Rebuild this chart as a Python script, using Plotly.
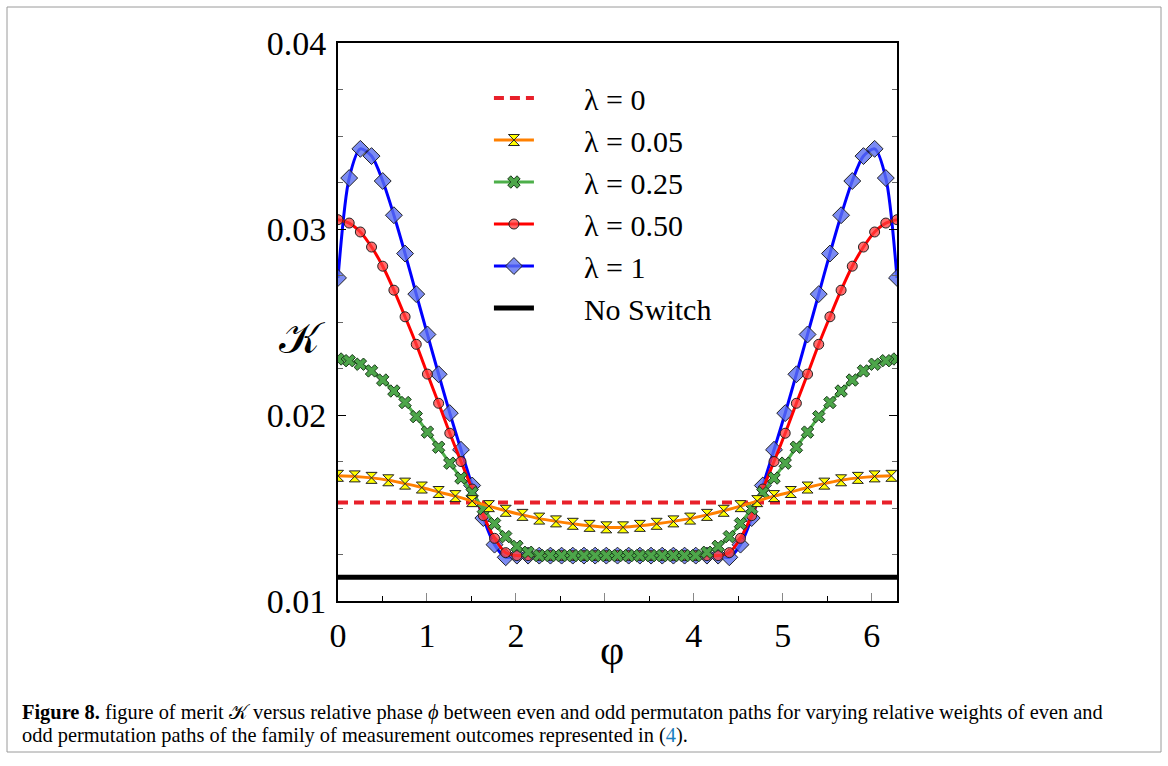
import numpy as np
import plotly.graph_objects as go

# ---------------- data ----------------
phi51 = np.linspace(0, 2 * np.pi, 51)          # grid of lambda = 0.25, 0.50, 1 markers
phi34 = np.linspace(0, 0.06 * np.pi * 33, 34)  # grid of lambda = 0.05 markers
phi_const = [0.0, 2 * np.pi]

k_lam0 = [0.0153, 0.0153]
k_noswitch = [0.01128, 0.01128]

k_lam005 = [0.01673, 0.01670, 0.01662, 0.01649, 0.01631, 0.01610, 0.01586, 0.01564,
            0.01537, 0.01510, 0.01485, 0.01463, 0.01443, 0.01428, 0.01415, 0.01404,
            0.01396, 0.01396, 0.01404, 0.01415, 0.01428, 0.01443, 0.01463, 0.01485,
            0.01510, 0.01537, 0.01564, 0.01586, 0.01610, 0.01631, 0.01649, 0.01662,
            0.01670, 0.01673]

k_lam025 = [0.02301, 0.02292, 0.02273, 0.02237, 0.02188, 0.02129, 0.02067, 0.01991,
            0.01908, 0.01827, 0.01741, 0.01661, 0.01582, 0.01497, 0.01416, 0.01346,
            0.01294, 0.01262, 0.01244, 0.01244, 0.01244, 0.01244, 0.01244, 0.01244,
            0.01244, 0.01244, 0.01244, 0.01244, 0.01244, 0.01244, 0.01244, 0.01244,
            0.01244, 0.01262, 0.01294, 0.01346, 0.01416, 0.01497, 0.01582, 0.01661,
            0.01741, 0.01827, 0.01908, 0.01991, 0.02067, 0.02129, 0.02188, 0.02237,
            0.02273, 0.02292, 0.02301]

k_lam050 = [0.03050, 0.03032, 0.02984, 0.02903, 0.02800, 0.02671, 0.02528, 0.02380,
            0.02220, 0.02063, 0.01902, 0.01750, 0.01602, 0.01459, 0.01337, 0.01260,
            0.01244, 0.01244, 0.01244, 0.01244, 0.01244, 0.01244, 0.01244, 0.01244,
            0.01244, 0.01244, 0.01244, 0.01244, 0.01244, 0.01244, 0.01244, 0.01244,
            0.01244, 0.01244, 0.01244, 0.01260, 0.01337, 0.01459, 0.01602, 0.01750,
            0.01902, 0.02063, 0.02220, 0.02380, 0.02528, 0.02671, 0.02800, 0.02903,
            0.02984, 0.03032, 0.03050]

k_lam1 = [0.02737, 0.03274, 0.03431, 0.03392, 0.03258, 0.03074, 0.02868, 0.02650,
          0.02433, 0.02219, 0.02010, 0.01813, 0.01621, 0.01446, 0.01303, 0.01235,
          0.01244, 0.01244, 0.01244, 0.01244, 0.01244, 0.01244, 0.01244, 0.01244,
          0.01244, 0.01244, 0.01244, 0.01244, 0.01244, 0.01244, 0.01244, 0.01244,
          0.01244, 0.01244, 0.01244, 0.01235, 0.01303, 0.01446, 0.01621, 0.01813,
          0.02010, 0.02219, 0.02433, 0.02650, 0.02868, 0.03074, 0.03258, 0.03392,
          0.03431, 0.03274, 0.02737]

x_tickvals = [0, 1, 2, 3, 4, 5, 6]
x_ticktext = ["0", "1", "2", "", "4", "5", "6"]
y_tickvals = [0.01, 0.02, 0.03, 0.04]
y_ticktext = ["0.01", "0.02", "0.03", "0.04"]

PAD = "\u00a0\u00a0\u00a0\u00a0\u00a0\u00a0"
names = ["λ = 0", "λ = 0.05", "λ = 0.25", "λ = 0.50", "λ = 1", "No Switch"]

SERIF = "Liberation Serif"

# ---------------- figure ----------------
fig = go.Figure()

fig.add_trace(go.Scatter(x=phi_const, y=k_noswitch, mode="lines", name=PAD + names[5],
                         line=dict(color="black", width=5), legendrank=6))
fig.add_trace(go.Scatter(x=phi_const, y=k_lam0, mode="lines", name=PAD + names[0],
                         line=dict(color="#e8202a", width=4, dash="10px,6px"), legendrank=1))
fig.add_trace(go.Scatter(x=phi51, y=k_lam1, mode="lines+markers", name=PAD + names[4],
                         line=dict(color="#0000ff", width=3, shape="spline", smoothing=0.8),
                         marker=dict(symbol="diamond", size=13, color="rgba(90,110,240,0.8)",
                                     line=dict(color="#222", width=1)), legendrank=5))
fig.add_trace(go.Scatter(x=phi51, y=k_lam050, mode="lines+markers", name=PAD + names[3],
                         line=dict(color="#ff0000", width=3, shape="spline", smoothing=0.8),
                         marker=dict(symbol="circle", size=10, color="rgba(255,60,60,0.75)",
                                     line=dict(color="#222", width=1)), legendrank=4))
fig.add_trace(go.Scatter(x=phi51, y=k_lam025, mode="lines+markers", name=PAD + names[2],
                         line=dict(color="#4daf4a", width=3, shape="spline", smoothing=0.8),
                         marker=dict(symbol="x", size=11, color="#4da64a",
                                     line=dict(color="#1a3a1a", width=1)), legendrank=3))
fig.add_trace(go.Scatter(x=phi34, y=k_lam005, mode="lines+markers", name=PAD + names[1],
                         line=dict(color="#ff8000", width=3, shape="spline", smoothing=0.8),
                         marker=dict(symbol="hourglass", size=11, color="#ffff00",
                                     line=dict(color="#222", width=1)), legendrank=2))

fig.update_layout(
    width=1168, height=766,
    margin=dict(l=338, r=271, t=43, b=165),
    paper_bgcolor="white", plot_bgcolor="white",
    font=dict(family=SERIF, color="black"),
    showlegend=True,
    legend=dict(x=0.270, y=0.948, xanchor="left", yanchor="top",
                font=dict(family=SERIF, size=30, color="black"),
                bgcolor="rgba(0,0,0,0)", itemwidth=40, tracegroupgap=0),
)

fig.update_xaxes(
    range=[0, 2 * np.pi], showgrid=False, zeroline=False,
    showline=True, linecolor="black", linewidth=2, mirror=True,
    tickmode="array", tickvals=x_tickvals, ticktext=x_ticktext,
    ticks="inside", ticklen=8, tickcolor="#888", tickwidth=1,
    ticklabelstandoff=3,
    tickfont=dict(family=SERIF, size=34, color="black"),
    minor=dict(ticks="inside", dtick=0.5, ticklen=5, tickcolor="black", tickwidth=1),
)
fig.update_yaxes(
    range=[0.01, 0.04], showgrid=False, zeroline=False,
    showline=True, linecolor="black", linewidth=2, mirror="ticks",
    tickmode="array", tickvals=y_tickvals, ticktext=y_ticktext,
    ticks="inside", ticklen=8, tickcolor="black", tickwidth=1,
    ticklabelstandoff=3,
    tickfont=dict(family=SERIF, size=34, color="black"),
    minor=dict(ticks="inside", dtick=0.0025, tick0=0.01, ticklen=5, tickcolor="#666", tickwidth=1),
)

# axis titles
fig.add_annotation(x=0.49, y=-0.087, xref="paper", yref="paper", text="φ", showarrow=False,
                   font=dict(family=SERIF, size=42, color="black"), xanchor="center", yanchor="middle")
fig.add_annotation(x=-0.064, y=0.471, xref="paper", yref="paper", text="𝒦", showarrow=False,
                   font=dict(family=SERIF, size=44, color="black"), xanchor="center", yanchor="middle")

# caption
pw, ph = 559, 558
def px(xp):
    return (xp - 338) / pw
def py(yp):
    return (601 - yp) / ph

cap1 = ("<b>Figure 8.</b> figure of merit 𝒦 versus relative phase <i>ϕ</i> between even and odd "
        "permutaton paths for varying relative weights of even and")
cap2 = ("odd permutation paths of the family of measurement outcomes represented in "
        "(<span style='color:#1a7fc0'>4</span>).")
fig.add_annotation(x=px(20), y=py(712), xref="paper", yref="paper", text=cap1, showarrow=False,
                   xanchor="left", yanchor="middle", font=dict(family=SERIF, size=20.4, color="black"))
fig.add_annotation(x=px(20), y=py(735), xref="paper", yref="paper", text=cap2, showarrow=False,
                   xanchor="left", yanchor="middle", font=dict(family=SERIF, size=20.4, color="black"))

# outer frame
fig.add_shape(type="rect", xref="paper", yref="paper",
              x0=px(7), x1=px(1161), y0=py(752), y1=py(7),
              line=dict(color="#9a9a9a", width=1), fillcolor="rgba(0,0,0,0)", layer="below")

fig.write_html("out.html", config={"displayModeBar": False},
               post_script="document.body.style.margin='0';")
